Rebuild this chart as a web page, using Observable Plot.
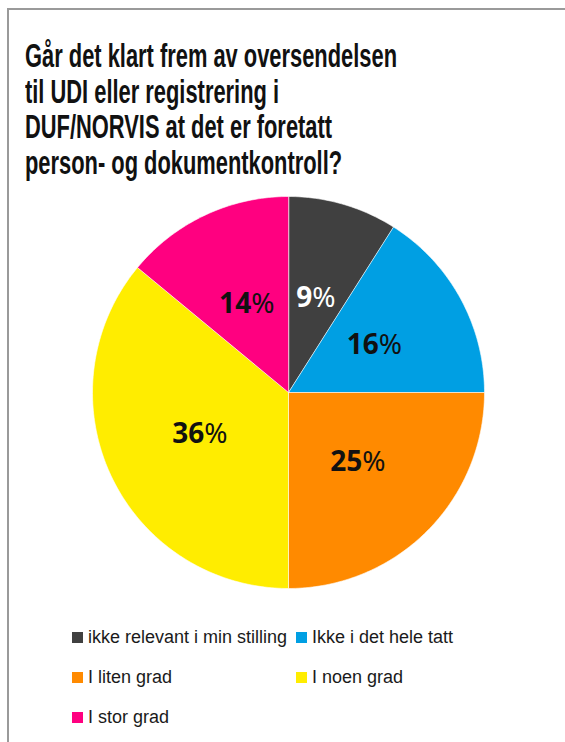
<!DOCTYPE html>
<html>
<head>
<meta charset="utf-8">
<script src="https://cdn.jsdelivr.net/npm/d3@7"></script>
<script src="https://cdn.jsdelivr.net/npm/@observablehq/plot@0.6"></script>
<style>
  html, body { margin: 0; padding: 0; background: #fff; }
  body { width: 565px; height: 742px; position: relative; overflow: hidden; }
  .frame-top { position: absolute; left: 7px; top: 8px; width: 558px; height: 2px; background: #9a9a9a; }
  .frame-left { position: absolute; left: 7px; top: 8px; width: 2px; height: 734px; background: #9a9a9a; }
  #title { position: absolute; left: 25px; top: 38px; font-family: "Liberation Sans Narrow", "Liberation Sans", sans-serif; font-weight: bold; font-size: 33px; line-height: 35.5px; color: #111; transform-origin: 0 0; white-space: nowrap; }
  #title span { display: block; }
  #title span.m { display: inline-block; }
  #chart { position: absolute; left: 0; top: 180px; }
  .leg { position: absolute; height: 24px; display: flex; align-items: center; font-family: "Liberation Sans Narrow", "Liberation Sans", sans-serif; font-size: 18px; color: #1a1a1a; white-space: nowrap; }
  .sw { width: 11px; height: 11px; margin-right: 5px; flex: none; }
</style>
</head>
<body>
<div class="frame-top"></div>
<div class="frame-left"></div>
<div id="title"></div>
<div id="chart"></div>
<div id="legend"></div>
<script>
const titleLines = [
  "Går det klart frem av oversendelsen",
  "til UDI eller registrering i",
  "DUF/NORVIS at det er foretatt",
  "person- og dokumentkontroll?"
];
const categories = ["ikke relevant i min stilling", "Ikke i det hele tatt", "I liten grad", "I noen grad", "I stor grad"];
const values = [9, 16, 25, 36, 14];
const colors = ["#404040", "#009fe3", "#ff8a00", "#ffed00", "#ff0080"];

// Title
const titleEl = document.getElementById("title");
titleLines.forEach((t, i) => {
  const s = document.createElement("span");
  const inner = document.createElement("span");
  inner.className = "m";
  inner.textContent = t;
  s.appendChild(inner);
  titleEl.appendChild(s);
});
const firstW = titleEl.querySelector("span.m").getBoundingClientRect().width;
titleEl.style.transform = `scaleX(${372 / firstW})`;

// Pie geometry from data
const arcs = d3.pie().sort(null).value(d => d)(values);
const slices = [];
arcs.forEach((a, i) => {
  const cat = categories[i];
  slices.push({cat, x: 0, y: 0});
  const n = Math.max(2, Math.ceil((a.endAngle - a.startAngle) / (Math.PI / 180)));
  for (let k = 0; k <= n; k++) {
    const t = a.startAngle + (a.endAngle - a.startAngle) * k / n;
    slices.push({cat, x: Math.sin(t), y: Math.cos(t)});
  }
});
const labels = arcs.map((a, i) => {
  const m = (a.startAngle + a.endAngle) / 2;
  return {cat: categories[i], value: values[i], x: 0.5 * Math.sin(m), y: 0.5 * Math.cos(m), white: i === 0};
});

const plot = Plot.plot({
  width: 565,
  height: 424,
  marginLeft: 92,
  marginRight: 81,
  marginTop: 16,
  marginBottom: 16,
  x: {domain: [-1, 1], axis: null},
  y: {domain: [-1, 1], axis: null},
  color: {domain: categories, range: colors},
  marks: [
    Plot.line(slices, {x: "x", y: "y", z: "cat", fill: "cat", stroke: "white", strokeWidth: 0.6, curve: "linear-closed"}),
    Plot.text(labels.filter(d => d.white), {x: "x", y: "y", text: d => d.value + "%", fill: "white", fontSize: 28, fontFamily: "Noto Sans"}),
    Plot.text(labels.filter(d => !d.white), {x: "x", y: "y", text: d => d.value + "%", fill: "#111", fontSize: 28, fontFamily: "Noto Sans"})
  ]
});
// Bold digits, regular percent sign
d3.select(plot).selectAll("g[aria-label=text] text").each(function () {
  const t = this.textContent;
  const num = t.replace("%", "");
  const sel = d3.select(this);
  sel.text(null);
  sel.append("tspan").attr("font-weight", "bold").text(num);
  sel.append("tspan").attr("font-weight", "normal").text("%");
});
document.getElementById("chart").appendChild(plot);

// Legend
const legPos = [[72, 637], [296, 637], [72, 677], [296, 677], [72, 717]];
const legend = document.getElementById("legend");
categories.forEach((c, i) => {
  const d = document.createElement("div");
  d.className = "leg";
  d.style.left = legPos[i][0] + "px";
  d.style.top = (legPos[i][1] - 12) + "px";
  const sw = document.createElement("span");
  sw.className = "sw";
  sw.style.background = colors[i];
  const tx = document.createElement("span");
  tx.textContent = c;
  d.appendChild(sw);
  d.appendChild(tx);
  legend.appendChild(d);
});
</script>
</body>
</html>
